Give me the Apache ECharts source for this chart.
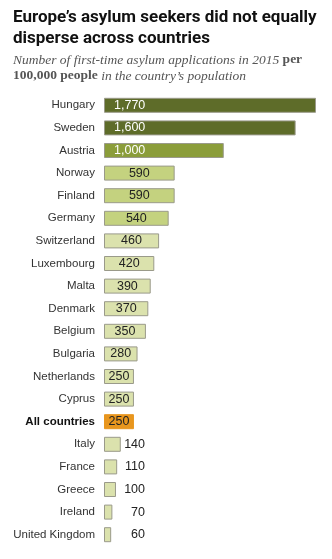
<!DOCTYPE html>
<html>
<head>
<meta charset="utf-8">
<script src="https://cdn.jsdelivr.net/npm/echarts@6/dist/echarts.min.js"></script>
<style>
  html, body { margin: 0; padding: 0; background: #fff; }
  #chart { width: 332px; height: 559px; }
</style>
</head>
<body>
<div id="chart"></div>
<script>
// First-time asylum applications in 2015 per 100,000 residents
const countries = ['Hungary', 'Sweden', 'Austria', 'Norway', 'Finland', 'Germany', 'Switzerland',
  'Luxembourg', 'Malta', 'Denmark', 'Belgium', 'Bulgaria', 'Netherlands', 'Cyprus',
  'All countries', 'Italy', 'France', 'Greece', 'Ireland', 'United Kingdom'];
const applicationsPer100k = [1770, 1600, 1000, 590, 590, 540, 460, 420, 390, 370, 350, 280,
  250, 250, 250, 140, 110, 100, 70, 60];
const averageLabel = 'All countries';

function barColor(name, v) {
  if (name === averageLabel) return '#e8961e';
  if (v >= 1500) return '#5e6c29';
  if (v >= 1000) return '#8b9d3a';
  if (v >= 500) return '#c4d27f';
  return '#dbe2ad';
}

function fmt(v) {
  return v.toLocaleString('en-US');
}

const data = applicationsPer100k.map((v, i) => {
  const name = countries[i];
  const item = {
    value: v,
    itemStyle: {
      color: barColor(name, v),
      borderColor: name === averageLabel ? '#e8961e' : '#9a9a8a',
      borderWidth: 1
    }
  };
  if (v >= 1000) {
    item.label = { position: 'insideLeft', distance: 10, color: '#ffffff' };
  } else if (v < 200) {
    item.label = { position: [41, '50%'], align: 'right', verticalAlign: 'middle', color: '#222' };
  } else {
    item.label = { position: 'inside', color: '#222' };
  }
  return item;
});

const chart = echarts.init(document.getElementById('chart'), null, { renderer: 'canvas' });
chart.setOption({
  animation: false,
  backgroundColor: '#ffffff',
  title: {
    text: 'Europe\u2019s asylum seekers did not equally\ndisperse across countries',
    left: 8,
    top: 2,
    textStyle: {
      fontFamily: 'Roboto',
      fontWeight: 'bold',
      fontSize: 17,
      lineHeight: 21,
      color: '#111'
    },
    subtext: '{i|Number of first-time asylum applications in 2015 }{b|per}\n{b|100,000 people}{i| in the country\u2019s population}',
    itemGap: 3,
    subtextStyle: {
      rich: {
        i: { fontFamily: 'Liberation Serif', fontStyle: 'italic', fontSize: 13.5, color: '#555', lineHeight: 16 },
        b: { fontFamily: 'Liberation Serif', fontWeight: 'bold', fontSize: 13.5, color: '#555', lineHeight: 16 }
      }
    }
  },
  grid: { left: 104, right: 16, top: 94, bottom: 13, containLabel: false },
  xAxis: {
    type: 'value',
    min: 0,
    max: 1770,
    show: false
  },
  yAxis: {
    type: 'category',
    inverse: true,
    data: countries,
    axisLine: { show: false },
    axisTick: { show: false },
    axisLabel: {
      margin: 9,
      fontFamily: 'Liberation Sans',
      fontSize: 11.5,
      color: '#333',
      formatter: (name) => name === averageLabel ? '{b|' + name + '}' : name,
      rich: {
        b: { fontFamily: 'Liberation Sans', fontWeight: 'bold', fontSize: 11.5, color: '#111' }
      }
    }
  },
  series: [{
    type: 'bar',
    data: data,
    barWidth: 15,
    label: {
      show: true,
      fontFamily: 'Liberation Sans',
      fontSize: 12.5,
      formatter: (p) => fmt(p.value)
    }
  }]
});
</script>
</body>
</html>
